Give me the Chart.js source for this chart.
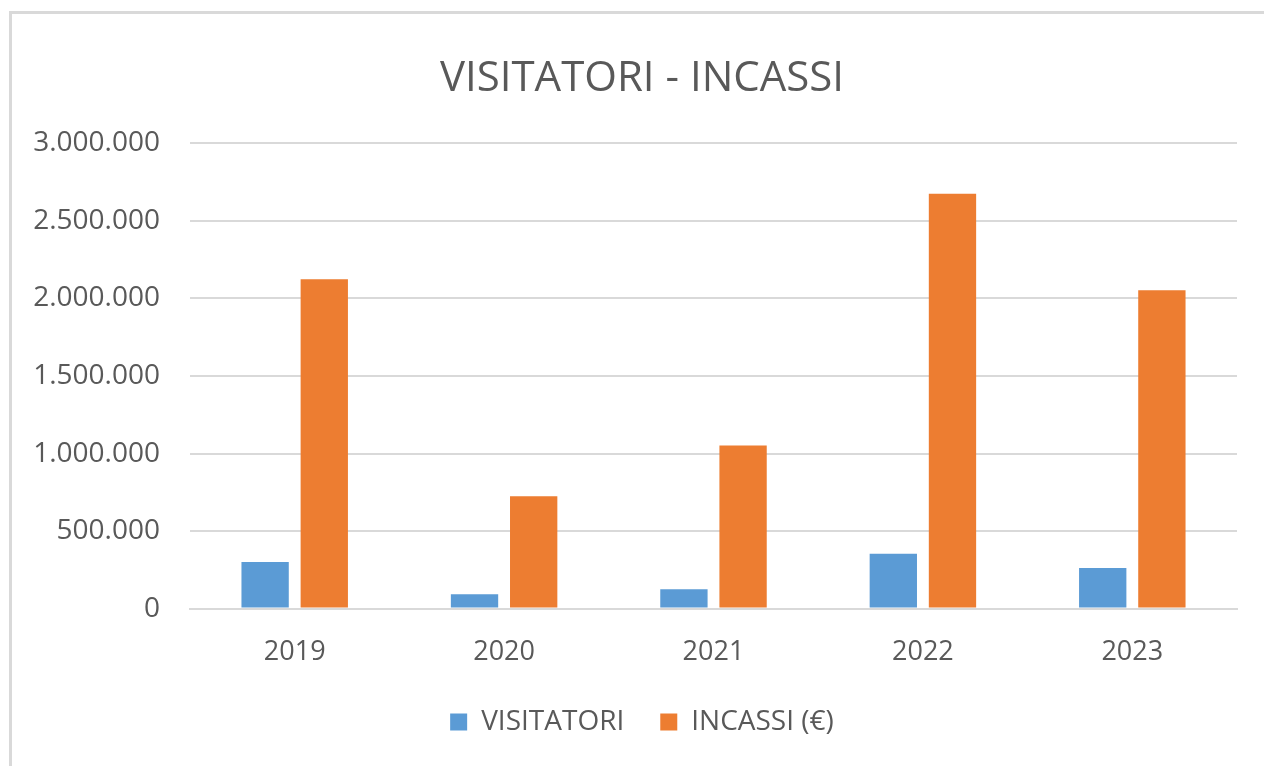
<!DOCTYPE html>
<html>
<head>
<meta charset="utf-8">
<script src="https://cdn.jsdelivr.net/npm/chart.js@4"></script>
<style>
    html, body { margin: 0; padding: 0; background: #fff; }
    #frame { position: absolute; left: 9px; top: 11px; width: 1300px; height: 800px;
             border-left: 3px solid #d9d9d9; border-top: 3px solid #d9d9d9; }
    #wrap { position: absolute; left: 0; top: 0; width: 1264px; height: 766px; }
</style>
</head>
<body>
<div id="frame"></div>
<div id="wrap"><canvas id="chart"></canvas></div>
<script>
var years = ["2019", "2020", "2021", "2022", "2023"];
var visitatori = [300000, 92000, 124000, 353000, 262000];
var incassi = [2124000, 725000, 1051000, 2676000, 2053000];
var yTicks = [0, 500000, 1000000, 1500000, 2000000, 2500000, 3000000];

var textColor = "#595959";
var fontFamily = "'Open Sans', sans-serif";

// thousands with dots, like the italian spreadsheet
var formatNumber = function(v){
    return String(v).replace(/\B(?=(\d{3})+(?!\d))/g, ".");
};

var ctx = document.getElementById("chart").getContext("2d");
var chart = new Chart(ctx, {
    type: "bar",
    data: {
        labels: years,
        datasets: [
            {
                label: "VISITATORI",
                data: visitatori,
                backgroundColor: "#5b9bd5",
                borderColor: "#5b9bd5",
                borderWidth: 0
            },
            {
                label: "INCASSI (€)",
                data: incassi,
                backgroundColor: "#ed7d31",
                borderColor: "#ed7d31",
                borderWidth: 0
            }
        ]
    },
    options: {
        responsive: true,
        maintainAspectRatio: false,
        animation: false,
        categoryPercentage: 0.565,
        barPercentage: 0.8,
        layout: {
            padding: { left: 20, right: 0, top: 0, bottom: 20 }
        },
        plugins: {
            tooltip: { enabled: false },
            title: {
                display: true,
                text: "VISITATORI - INCASSI",
                color: textColor,
                font: { family: fontFamily, size: 42, weight: "normal" },
                padding: { top: 54, bottom: 39 }
            },
            legend: {
                position: "bottom",
                labels: {
                    color: textColor,
                    font: { family: fontFamily, size: 28 },
                    boxWidth: 17,
                    boxHeight: 17,
                    padding: 36
                }
            }
        },
        scales: {
            x: {
                grid: { display: false },
                border: { display: true, color: "#d9d9d9", width: 2 },
                afterFit: function(scale){ scale.height -= 17; },
                ticks: {
                    color: textColor,
                    font: { family: fontFamily, size: 27 },
                    padding: 20
                }
            },
            y: {
                min: 0,
                max: 3000000,
                afterFit: function(scale){ scale.width = 170; },
                afterBuildTicks: function(scale){
                    scale.ticks = yTicks.map(function(v){ return { value: v }; });
                },
                grid: { color: "#d9d9d9", lineWidth: 2, drawTicks: false },
                border: { display: false },
                ticks: {
                    color: textColor,
                    font: { family: fontFamily, size: 28 },
                    padding: 30,
                    callback: function(v){ return formatNumber(v); }
                }
            },
            // empty right strip so the title and legend centre like the original
            yRight: {
                position: "right",
                afterFit: function(scale){ scale.width = 27; },
                grid: { display: false, drawTicks: false },
                border: { display: false },
                ticks: { display: false }
            }
        }
    }
});
</script>
</body>
</html>
